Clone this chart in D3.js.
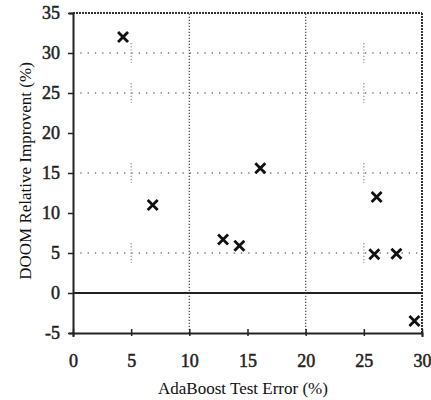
<!DOCTYPE html>
<html>
<head>
<meta charset="utf-8">
<script src="https://cdn.jsdelivr.net/npm/d3@7"></script>
<style>
  body { margin: 0; background: #fff; }
</style>
</head>
<body>
<div id="chart"></div>
<script>
// AdaBoost test error vs DOOM relative improvement
var errors = [4.3, 6.85, 12.9, 14.3, 16.1, 26.1, 25.9, 27.8, 29.35];
var improvements = [32.0, 11.0, 6.7, 5.9, 15.6, 12.0, 4.85, 4.9, -3.5];
var xTicks = [0, 5, 10, 15, 20, 25, 30];
var yTicks = [-5, 0, 5, 10, 15, 20, 25, 30, 35];
var hGrid = [5, 15, 25, 30];
var vGrid = [10, 20];

var serif = "'Liberation Serif', 'Times New Roman', serif";
var width = 431, height = 400;
var svg = d3.select("#chart").append("svg")
    .attr("width", width)
    .attr("height", height);

var x = d3.scaleLinear().domain([0, 30]).range([73, 422]);
var y = d3.scaleLinear().domain([-5, 35]).range([333, 13]);

// dotted grid
svg.append("g").selectAll("line")
    .data(hGrid).enter()
    .append("line")
    .attr("x1", x(0)).attr("x2", x(30))
    .attr("y1", function (d) { return y(d); })
    .attr("y2", function (d) { return y(d); })
    .attr("stroke", "#777")
    .attr("stroke-width", 1.3)
    .attr("stroke-dasharray", "1.3,6");

svg.append("g").selectAll("line")
    .data(vGrid).enter()
    .append("line")
    .attr("y1", y(-5)).attr("y2", y(35))
    .attr("x1", function (d) { return x(d); })
    .attr("x2", function (d) { return x(d); })
    .attr("stroke", "#555")
    .attr("stroke-width", 1.3)
    .attr("stroke-dasharray", "1.3,1.7");

// small dotted crosses at x = 5 and 25
var crossX = [5, 25];
crossX.forEach(function (cx) {
    svg.append("g").selectAll("line")
        .data(hGrid).enter()
        .append("line")
        .attr("x1", x(cx)).attr("x2", x(cx))
        .attr("y1", function (d) { return y(d) - 10; })
        .attr("y2", function (d) { return y(d) + 10; })
        .attr("stroke", "#888")
        .attr("stroke-width", 1.2)
        .attr("stroke-dasharray", "1.2,2");
});

// zero line
svg.append("line")
    .attr("x1", x(0)).attr("x2", x(30))
    .attr("y1", y(0)).attr("y2", y(0))
    .attr("stroke", "#222")
    .attr("stroke-width", 1.8);

// frame
svg.append("line")
    .attr("x1", x(0)).attr("x2", x(30))
    .attr("y1", y(35)).attr("y2", y(35))
    .attr("stroke", "#333").attr("stroke-width", 2)
    .attr("stroke-dasharray", "2,1");
svg.append("line")
    .attr("x1", x(30)).attr("x2", x(30))
    .attr("y1", y(35)).attr("y2", y(-5))
    .attr("stroke", "#333").attr("stroke-width", 2)
    .attr("stroke-dasharray", "2,1");

// plain hyphen for negatives, like the original
var fmt = function (d) { return String(d); };
var xAxis = d3.axisBottom(x).tickValues(xTicks).tickSize(4).tickPadding(17).tickFormat(fmt);
var yAxis = d3.axisLeft(y).tickValues(yTicks).tickSize(4).tickPadding(9).tickFormat(fmt);

var gx = svg.append("g").attr("transform", "translate(0," + y(-5) + ")").call(xAxis);
var gy = svg.append("g").attr("transform", "translate(" + x(0) + ",0)").call(yAxis);

[gx, gy].forEach(function (g) {
    g.select(".domain").attr("stroke", "#222").attr("stroke-width", 2);
    g.selectAll(".tick line").attr("stroke", "#222").attr("stroke-width", 1.5);
    g.selectAll(".tick text")
        .style("font-family", serif)
        .style("font-size", "18px")
        .style("font-weight", "normal")
        .attr("fill", "#222")
        .attr("stroke", "#222")
        .attr("stroke-width", 0.5);
});
gx.selectAll(".tick line").attr("y1", -4).attr("y2", 3);
gy.selectAll(".tick line").attr("x1", -5).attr("x2", 0);

// markers
var s = 5;
var marks = svg.append("g").selectAll("g")
    .data(errors).enter()
    .append("g")
    .attr("transform", function (d, i) {
        return "translate(" + x(d) + "," + y(improvements[i]) + ")";
    });
marks.append("path")
    .attr("d", "M" + (-s) + "," + (-s) + "L" + s + "," + s + "M" + (-s) + "," + s + "L" + s + "," + (-s))
    .attr("stroke", "#111")
    .attr("stroke-width", 2.8);

// titles
svg.append("text")
    .attr("x", 243)
    .attr("y", 394)
    .attr("text-anchor", "middle")
    .style("font-family", serif)
    .style("font-size", "17px")
    .attr("fill", "#111")
    .text("AdaBoost Test Error (%)");

svg.append("text")
    .attr("transform", "translate(31,171) rotate(-90)")
    .attr("text-anchor", "middle")
    .style("font-family", serif)
    .style("font-size", "17px")
    .attr("fill", "#111")
    .text("DOOM Relative Improvent (%)");
</script>
</body>
</html>
